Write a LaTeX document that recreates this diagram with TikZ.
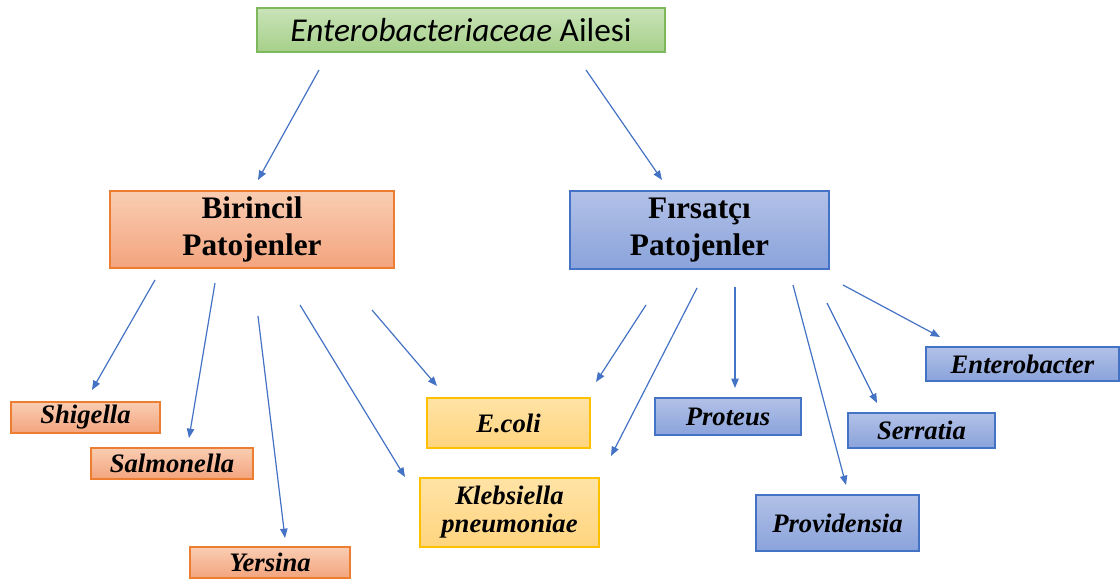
\documentclass[tikz,border=0pt]{standalone}
\usepackage{fontspec}
\setmainfont{Liberation Serif}
\newfontfamily\calib{Carlito}
\usetikzlibrary{arrows.meta}

\definecolor{grnTop}{HTML}{C9E3B8}
\definecolor{grnBot}{HTML}{A6D08A}
\definecolor{grnLine}{HTML}{7DB85A}
\definecolor{orgTop}{HTML}{F9CDB2}
\definecolor{orgBot}{HTML}{F3A47E}
\definecolor{orgLine}{HTML}{ED7D31}
\definecolor{bluTop}{HTML}{B2C1E7}
\definecolor{bluBot}{HTML}{8AA3DB}
\definecolor{bluLine}{HTML}{4472C4}
\definecolor{ylwTop}{HTML}{FFE3A6}
\definecolor{ylwBot}{HTML}{FFD47E}
\definecolor{ylwLine}{HTML}{FFC000}
\definecolor{arrowBlue}{HTML}{4472C4}

\tikzset{
  basebox/.style={rectangle, inner sep=0pt, outer sep=0pt, line width=1.1pt, align=center},
  greenbox/.style={basebox, draw=grnLine, top color=grnTop, bottom color=grnBot},
  orangebox/.style={basebox, draw=orgLine, top color=orgTop, bottom color=orgBot},
  bluebox/.style={basebox, draw=bluLine, top color=bluTop, bottom color=bluBot},
  yellowbox/.style={basebox, draw=ylwLine, top color=ylwTop, bottom color=ylwBot},
  headtext/.style={font=\fontsize{23.5}{28}\selectfont\bfseries},
  genustext/.style={font=\fontsize{20}{21}\selectfont\bfseries\itshape},
  link/.style={draw=arrowBlue, line width=0.9pt, -{Triangle[length=7pt,width=5.5pt]}}
}

\begin{document}
\begin{tikzpicture}[x=0.75pt, y=-0.75pt]
\path[use as bounding box] (0,0) rectangle (1120,580);

% family
\node[greenbox, minimum width=306pt, minimum height=33pt,
      font=\calib\fontsize{25}{28}\selectfont] (family) at (461,30)
  {\textit{Enterobacteriaceae} Ailesi};

% two main groups
\node[orangebox, headtext, minimum width=213pt, minimum height=57.75pt] (primary) at (252,229.5)
  {Birincil\\Patojenler};
\node[bluebox, headtext, minimum width=194.25pt, minimum height=58.5pt] (opportunist) at (699.5,230)
  {Fırsatçı\\Patojenler};

% primary pathogens
\node[orangebox, genustext, minimum width=111.75pt, minimum height=23.25pt] (shigella) at (85.5,417.5) {Shigella};
\node[orangebox, genustext, minimum width=121.5pt, minimum height=23.25pt] (salmonella) at (172,463.5) {Salmonella};
\node[orangebox, genustext, minimum width=120pt, minimum height=23.25pt] (yersina) at (270,562.5) {Yersina};

% shared
\node[yellowbox, genustext, minimum width=122.25pt, minimum height=37.5pt] (ecoli) at (508.5,423) {E.coli};
\node[yellowbox, genustext, minimum width=134.25pt, minimum height=51.75pt] (klebsiella) at (509.5,512.5) {Klebsiella\\pneumoniae};

% opportunistic pathogens
\node[bluebox, genustext, minimum width=109.5pt, minimum height=27.75pt] (proteus) at (728,416.5) {Proteus};
\node[bluebox, genustext, minimum width=122.25pt, minimum height=42pt] (providensia) at (837.5,523) {Providensia};
\node[bluebox, genustext, minimum width=110.25pt, minimum height=26.25pt] (serratia) at (921.5,430.5) {Serratia};
\node[bluebox, genustext, minimum width=144.75pt, minimum height=25.5pt] (enterobacter) at (1022.5,364) {Enterobacter};

% arrow end points
\coordinate (fa1) at (319,70);   \coordinate (fb1) at (258,180);
\coordinate (fa2) at (586,70);   \coordinate (fb2) at (662,180);

\coordinate (pa1) at (155,280);  \coordinate (pb1) at (92,390);
\coordinate (pa2) at (215,283);  \coordinate (pb2) at (189,438);
\coordinate (pa3) at (258,316);  \coordinate (pb3) at (285,538);
\coordinate (pa4) at (300,305);  \coordinate (pb4) at (405,477);
\coordinate (pa5) at (372,310);  \coordinate (pb5) at (437,386);

\coordinate (oa1) at (646,305);  \coordinate (ob1) at (596,382);
\coordinate (oa2) at (697,288);  \coordinate (ob2) at (611,456);
\coordinate (oa3) at (735,287);  \coordinate (ob3) at (735,388);
\coordinate (oa4) at (793,285);  \coordinate (ob4) at (846,485);
\coordinate (oa5) at (827,303);  \coordinate (ob5) at (877,403);
\coordinate (oa6) at (843,285);  \coordinate (ob6) at (940,337);

% connectors
\draw[link] (fa1) -- (fb1);
\draw[link] (fa2) -- (fb2);
\draw[link] (pa1) -- (pb1);
\draw[link] (pa2) -- (pb2);
\draw[link] (pa3) -- (pb3);
\draw[link] (pa4) -- (pb4);
\draw[link] (pa5) -- (pb5);
\draw[link] (oa1) -- (ob1);
\draw[link] (oa2) -- (ob2);
\draw[link] (oa3) -- (ob3);
\draw[link] (oa4) -- (ob4);
\draw[link] (oa5) -- (ob5);
\draw[link] (oa6) -- (ob6);
\end{tikzpicture}
\end{document}
